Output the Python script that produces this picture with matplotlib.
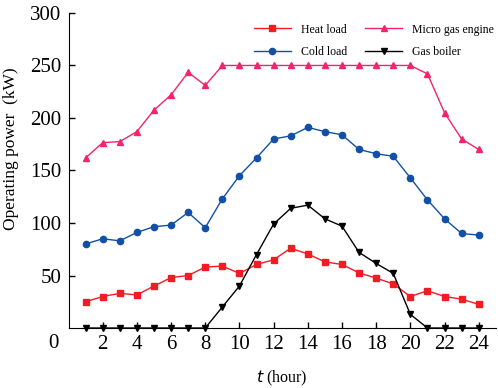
import matplotlib
matplotlib.use("Agg")
import matplotlib.pyplot as plt
import numpy as np

plt.rcParams['font.family'] = ['Liberation Serif', 'DejaVu Serif']

hours = np.arange(1, 25)
heat_load = [25, 30, 33, 31.5, 40, 48, 50, 58, 59, 52, 60.5, 65, 76, 70.5,
             63, 60.5, 52.5, 47.5, 42, 30, 35.5, 30, 27.5, 22.5]
cold_load = [80, 85, 83, 91, 96.5, 98, 110, 95.5, 123, 145, 162, 180, 183, 191,
             187, 184, 170, 166, 163.5, 143, 122, 104, 90, 88.5]
micro_gas = [162, 176.5, 177.5, 187, 207.5, 222, 243.5, 231, 250, 250, 250, 250,
             250, 250, 250, 250, 250, 250, 250, 250, 242, 205, 180, 170]
gas_boiler = [0, 0, 0, 0, 0, 0, 0, 0, 20, 40, 70, 99, 114, 117,
              104, 97, 72, 61.5, 52, 13, 0, 0, 0, 0]

fig = plt.figure(figsize=(4.98, 3.88), dpi=100)
ax = fig.add_axes([0.1376, 0.1546, 0.858, 0.812])

l1, = ax.plot(hours, heat_load, color='#f41c24', marker='s', markersize=4, lw=1,
              label='Heat load')
l2, = ax.plot(hours, cold_load, color='#1150a6', marker='o', markersize=4.5, lw=1,
              label='Cold load')
l3, = ax.plot(hours, micro_gas, color='#f5236e', marker='^', markersize=5, lw=1,
              label='Micro gas engine')
l4, = ax.plot(hours, gas_boiler, color='black', marker='v', markersize=5, lw=1,
              label='Gas boiler', clip_on=False, zorder=5)

ax.set_xlim(0, 25)
ax.set_ylim(0, 300)
ax.set_xticks(range(2, 25, 2))
ax.set_yticks(range(50, 301, 50))
ax.tick_params(direction='in', labelsize=15, length=4, width=1, pad=5)
ax.spines['top'].set_visible(False)
ax.spines['right'].set_visible(False)
ax.text(-0.022, -0.02, '0', transform=ax.transAxes, ha='right', va='top', fontsize=15)

ax.set_ylabel('Operating power  (kW)', fontsize=12.5)
ax.yaxis.set_label_coords(-0.115, 0.568)
ax.set_xlabel('$\\it{t}$ (hour)', fontsize=11.5)
ax.xaxis.set_label_coords(0.5, -0.13)

ax.legend(handles=[l1, l2, l3, l4], ncol=2, loc='upper right',
          bbox_to_anchor=(1.02, 1.0), frameon=False, fontsize=8.5,
          handlelength=3.2, columnspacing=1.5, labelspacing=0.9)

fig.savefig('out.png', dpi=100)
